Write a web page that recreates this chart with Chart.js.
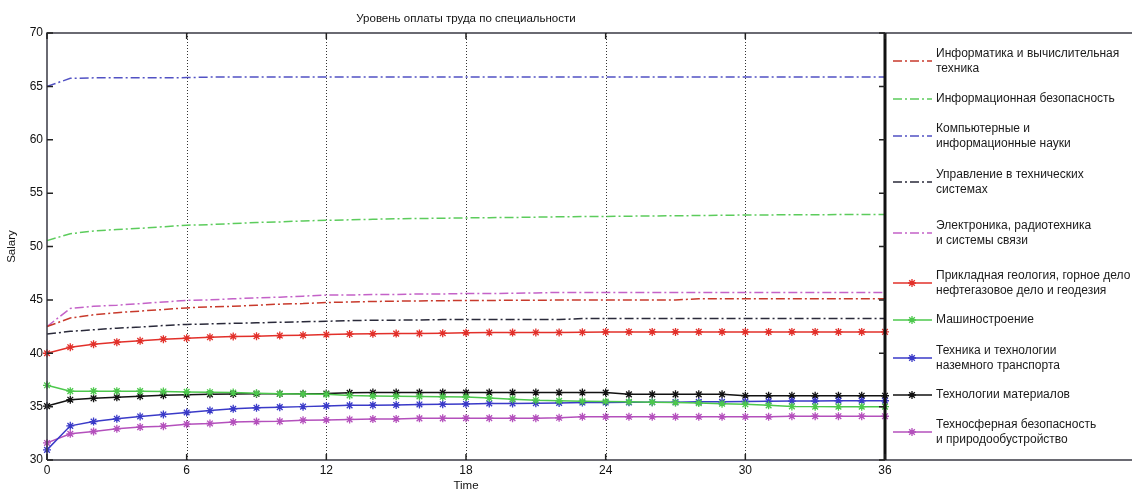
<!DOCTYPE html>
<html>
<head>
<meta charset="utf-8">
<script src="https://cdn.jsdelivr.net/npm/chart.js@4.4.1/dist/chart.umd.min.js"></script>
<style>
  html, body { margin: 0; padding: 0; background: #ffffff; }
  #wrap { width: 1132px; height: 490px; }
</style>
</head>
<body>
<div id="wrap"><canvas id="c" width="1132" height="490"></canvas></div>
<script>
// ---------- DATA ----------
const chartTitle = 'Уровень оплаты труда по специальности';
const xAxisTitle = 'Time';
const yAxisTitle = 'Salary';
const time = [0,1,2,3,4,5,6,7,8,9,10,11,12,13,14,15,16,17,18,19,20,21,22,23,24,25,26,27,28,29,30,31,32,33,34,35,36];
const xTickValues = [0, 6, 12, 18, 24, 30, 36];
const yTickValues = [30, 35, 40, 45, 50, 55, 60, 65, 70];

const seriesNames = [
  ['Информатика и вычислительная', 'техника'],
  ['Информационная безопасность'],
  ['Компьютерные и', 'информационные науки'],
  ['Управление в технических', 'системах'],
  ['Электроника, радиотехника', 'и системы связи'],
  ['Прикладная геология, горное дело', 'нефтегазовое дело и геодезия'],
  ['Машиностроение'],
  ['Техника и технологии', 'наземного транспорта'],
  ['Технологии материалов'],
  ['Техносферная безопасность', 'и природообустройство']
];

const informatics = [42.5,43.3,43.6,43.8,43.95,44.1,44.25,44.35,44.4,44.5,44.6,44.65,44.75,44.8,44.85,44.88,44.9,44.92,44.95,44.95,44.96,44.97,44.98,44.98,44.99,45.0,45.0,45.0,45.1,45.1,45.1,45.1,45.1,45.1,45.1,45.1,45.1];
const infoSecurity = [50.55,51.2,51.45,51.6,51.7,51.85,52.0,52.05,52.15,52.25,52.3,52.4,52.45,52.5,52.55,52.6,52.62,52.65,52.68,52.7,52.72,52.75,52.78,52.8,52.82,52.84,52.86,52.88,52.9,52.92,52.95,52.96,52.97,52.98,52.99,53.0,53.0];
const computerSci = [65.0,65.75,65.8,65.8,65.8,65.8,65.82,65.87,65.87,65.87,65.87,65.87,65.87,65.87,65.87,65.87,65.87,65.87,65.87,65.87,65.87,65.87,65.87,65.87,65.87,65.87,65.87,65.87,65.87,65.87,65.87,65.87,65.87,65.87,65.87,65.87,65.87];
const controlSys = [41.8,42.05,42.2,42.35,42.45,42.6,42.7,42.75,42.8,42.85,42.9,42.95,43.0,43.05,43.1,43.1,43.12,43.15,43.15,43.15,43.15,43.15,43.15,43.25,43.25,43.25,43.25,43.25,43.25,43.25,43.25,43.25,43.25,43.25,43.25,43.25,43.25];
const electronics = [42.5,44.2,44.4,44.5,44.65,44.8,44.95,45.0,45.1,45.2,45.25,45.35,45.45,45.45,45.5,45.5,45.55,45.55,45.6,45.6,45.62,45.65,45.7,45.7,45.7,45.7,45.7,45.7,45.7,45.7,45.7,45.7,45.7,45.7,45.7,45.7,45.7];
const geology = [40.0,40.57,40.85,41.04,41.16,41.32,41.41,41.5,41.57,41.6,41.66,41.69,41.75,41.8,41.82,41.84,41.86,41.88,41.92,41.94,41.94,41.95,41.95,41.96,42.0,42.0,42.0,42.0,42.0,42.0,42.0,42.0,42.0,42.0,42.0,42.0,42.0];
const mechEng = [37.0,36.45,36.45,36.45,36.45,36.42,36.38,36.35,36.32,36.25,36.2,36.18,36.15,36.05,36.0,35.98,35.95,35.92,35.9,35.8,35.7,35.6,35.55,35.5,35.48,35.45,35.42,35.38,35.33,35.28,35.22,35.12,35.02,35.0,35.0,35.0,35.0];
const transport = [30.95,33.2,33.6,33.86,34.08,34.27,34.45,34.63,34.79,34.89,34.95,35.0,35.07,35.12,35.14,35.16,35.2,35.23,35.25,35.3,35.3,35.32,35.35,35.38,35.38,35.4,35.42,35.42,35.45,35.45,35.48,35.5,35.52,35.52,35.55,35.55,35.55];
const materials = [35.05,35.65,35.78,35.87,35.98,36.07,36.12,36.15,36.18,36.2,36.2,36.2,36.22,36.3,36.32,36.32,36.32,36.32,36.32,36.32,36.32,36.32,36.32,36.32,36.32,36.15,36.15,36.15,36.15,36.15,36.02,36.02,36.02,36.02,36.02,36.02,36.02];
const technosphere = [31.6,32.45,32.67,32.92,33.08,33.17,33.36,33.42,33.55,33.6,33.62,33.73,33.75,33.8,33.83,33.85,33.9,33.9,33.92,33.92,33.92,33.92,33.95,34.05,34.05,34.05,34.05,34.05,34.05,34.05,34.05,34.05,34.1,34.1,34.1,34.1,34.1];

const seriesValues = [informatics, infoSecurity, computerSci, controlSys, electronics, geology, mechEng, transport, materials, technosphere];

// ---------- STYLES ----------
const FONT = "'Liberation Sans', Arial, sans-serif";
const dashDot = [9, 3, 2, 3];
const seriesStyles = [
  { color: '#c83a2c', dash: dashDot, marker: false },
  { color: '#5ccc5c', dash: dashDot, marker: false },
  { color: '#5252c4', dash: dashDot, marker: false },
  { color: '#2a2a3a', dash: dashDot, marker: false },
  { color: '#c462c8', dash: dashDot, marker: false },
  { color: '#e2302a', dash: [], marker: true },
  { color: '#4cc84c', dash: [], marker: true },
  { color: '#3a3ac8', dash: [], marker: true },
  { color: '#111111', dash: [], marker: true },
  { color: '#b450bc', dash: [], marker: true }
];
const legendRowY = [61, 99, 136, 182, 233, 283, 320, 358, 395, 432];
const MARKER_R = 4;

const datasets = seriesValues.map((vals, i) => {
  const st = seriesStyles[i];
  return {
    label: seriesNames[i].join(' '),
    data: vals.map((v, k) => ({ x: time[k], y: v })),
    borderColor: st.color,
    backgroundColor: st.color,
    borderWidth: 1.5,
    borderDash: st.dash,
    pointStyle: 'star',
    pointRadius: st.marker ? MARKER_R : 0,
    pointBorderWidth: 1.3,
    pointBorderColor: st.color,
    pointHoverRadius: st.marker ? MARKER_R : 0,
    tension: 0,
    fill: false,
    clip: 8
  };
});

const framePlugin = {
  id: 'matlabFrame',
  beforeDatasetsDraw(chart) {
    const { ctx, chartArea: a, scales: { x } } = chart;
    ctx.save();
    ctx.strokeStyle = '#333333';
    ctx.lineWidth = 1;
    ctx.setLineDash([1, 2]);
    xTickValues.forEach(v => {
      if (v === 0 || v === 36) return;
      const px = Math.round(x.getPixelForValue(v)) + 0.5;
      ctx.beginPath(); ctx.moveTo(px, a.top); ctx.lineTo(px, a.bottom); ctx.stroke();
    });
    ctx.restore();
  },
  afterDatasetsDraw(chart) {
    const { ctx, chartArea: a, scales: { x, y }, width } = chart;
    ctx.save();
    ctx.setLineDash([]);
    ctx.strokeStyle = '#3a3a44';
    ctx.lineWidth = 1.5;
    ctx.beginPath();
    ctx.moveTo(a.left, a.bottom); ctx.lineTo(a.left, a.top); ctx.lineTo(width, a.top);
    ctx.moveTo(a.left, a.bottom); ctx.lineTo(width, a.bottom);
    ctx.stroke();
    ctx.strokeStyle = '#111111';
    ctx.lineWidth = 3;
    ctx.beginPath(); ctx.moveTo(a.right, a.top); ctx.lineTo(a.right, a.bottom); ctx.stroke();
    ctx.strokeStyle = '#222222';
    ctx.lineWidth = 1.5;
    const tl = 6;
    ctx.beginPath();
    yTickValues.forEach(v => {
      const py = y.getPixelForValue(v);
      ctx.moveTo(a.left, py); ctx.lineTo(a.left + tl, py);
      ctx.moveTo(a.right, py); ctx.lineTo(a.right - tl, py);
    });
    xTickValues.forEach(v => {
      const px = x.getPixelForValue(v);
      ctx.moveTo(px, a.bottom); ctx.lineTo(px, a.bottom - tl);
      ctx.moveTo(px, a.top); ctx.lineTo(px, a.top + tl);
    });
    ctx.stroke();

    ctx.fillStyle = '#111111';
    ctx.font = '11.5px ' + FONT;
    ctx.textAlign = 'center';
    ctx.textBaseline = 'middle';
    ctx.fillText(chartTitle, (a.left + a.right) / 2, 19);

    ctx.font = '12px ' + FONT;
    ctx.textAlign = 'left';
    chart.data.datasets.forEach((ds, i) => {
      const st = seriesStyles[i];
      const ry = legendRowY[i];
      ctx.strokeStyle = st.color;
      ctx.lineWidth = 1.5;
      ctx.setLineDash(st.dash);
      ctx.beginPath(); ctx.moveTo(893, ry); ctx.lineTo(932, ry); ctx.stroke();
      ctx.setLineDash([]);
      if (st.marker) {
        const r = MARKER_R;
        ctx.lineWidth = 1.3;
        ctx.beginPath();
        ctx.moveTo(912 - r, ry); ctx.lineTo(912 + r, ry);
        ctx.moveTo(912, ry - r); ctx.lineTo(912, ry + r);
        const d = r * Math.SQRT1_2;
        ctx.moveTo(912 - d, ry - d); ctx.lineTo(912 + d, ry + d);
        ctx.moveTo(912 - d, ry + d); ctx.lineTo(912 + d, ry - d);
        ctx.stroke();
      }
      ctx.fillStyle = '#1a1a1a';
      const lines = seriesNames[i];
      if (lines.length === 1) {
        ctx.fillText(lines[0], 936, ry);
      } else {
        ctx.fillText(lines[0], 936, ry - 7.5);
        ctx.fillText(lines[1], 936, ry + 8);
      }
    });
    ctx.restore();
  }
};

new Chart(document.getElementById('c'), {
  type: 'line',
  data: { datasets },
  options: {
    responsive: false,
    animation: false,
    events: [],
    layout: { padding: { top: 33, right: 247, left: 0, bottom: 0 } },
    plugins: { legend: { display: false }, title: { display: false }, tooltip: { enabled: false } },
    scales: {
      x: {
        type: 'linear', min: 0, max: 36,
        afterFit(s) { s.height = 30; },
        afterBuildTicks(s) { s.ticks = xTickValues.map(v => ({ value: v })); },
        grid: { display: false, drawTicks: false },
        border: { display: false },
        ticks: { color: '#111', font: { family: FONT, size: 12 }, padding: 3, maxRotation: 0, autoSkip: false },
        title: { display: true, text: xAxisTitle, color: '#111', font: { family: FONT, size: 11.5 }, padding: { top: 0, bottom: -2.5 } }
      },
      y: {
        type: 'linear', min: 30, max: 70,
        afterFit(s) { s.width = 47; },
        afterBuildTicks(s) { s.ticks = yTickValues.map(v => ({ value: v })); },
        grid: { display: false, drawTicks: false },
        border: { display: false },
        ticks: { color: '#111', font: { family: FONT, size: 12 }, padding: 4 },
        title: { display: true, text: yAxisTitle, color: '#111', font: { family: FONT, size: 11.5 }, padding: { top: 5, bottom: 0 } }
      }
    }
  },
  plugins: [framePlugin]
});
</script>
</body>
</html>
